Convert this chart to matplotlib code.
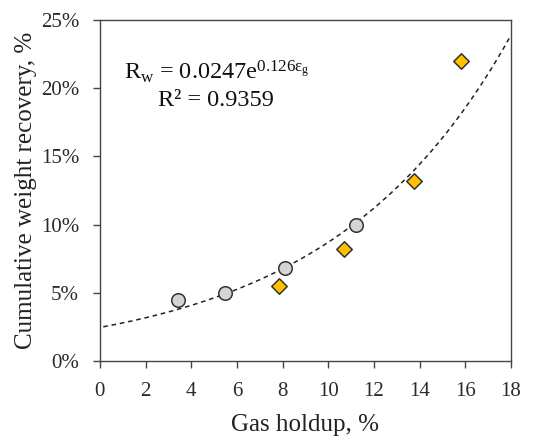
import numpy as np
import matplotlib
matplotlib.use("Agg")
import matplotlib.pyplot as plt
from matplotlib.ticker import FuncFormatter

# data
circle_x = [3.4, 5.5, 8.1, 11.2]
circle_y = [4.5, 5.0, 6.8, 10.0]
diamond_x = [7.85, 10.7, 13.75, 15.8]
diamond_y = [5.5, 8.2, 13.2, 22.0]
fit_a = 0.0247
fit_b = 0.126
x_ticks = [0, 2, 4, 6, 8, 10, 12, 14, 16, 18]
y_ticks = [0, 5, 10, 15, 20, 25]

plt.rcParams['font.family'] = ['Liberation Serif', 'DejaVu Serif']
plt.rcParams['mathtext.fontset'] = 'custom'
plt.rcParams['mathtext.rm'] = 'Liberation Serif'
plt.rcParams['mathtext.it'] = 'Liberation Serif'

fig = plt.figure(figsize=(5.4, 4.41), dpi=100)
ax = fig.add_axes([0.185, 0.181, 0.761, 0.774])

# trend line
xs = np.linspace(0.15, 18, 200)
ax.plot(xs, fit_a * np.exp(fit_b * xs) * 100, ls=(0, (3, 2.5)), color='#222222', lw=1.1, zorder=2)

ax.scatter(circle_x, circle_y, s=95, marker='o', facecolor='#d4d4d4',
           edgecolor='#333333', linewidth=1.1, zorder=3)
ax.scatter(diamond_x, diamond_y, s=62, marker='D', facecolor='#ffc000',
           edgecolor='#333333', linewidth=1.1, zorder=3)

ax.set_xlim(0, 18)
ax.set_ylim(0, 25)
ax.set_xticks(x_ticks)
ax.set_yticks(y_ticks)
ax.yaxis.set_major_formatter(FuncFormatter(lambda v, p: f"{v:.0f}%"))

for s in ax.spines.values():
    s.set_color('#444444')
    s.set_linewidth(1.0)
ax.tick_params(direction='out', length=5, width=1.0, color='#444444',
               labelsize=15, labelcolor='#2a2a2a')
ax.tick_params(axis='x', pad=10)
ax.tick_params(axis='y', pad=10)

ax.set_xlabel('Gas holdup, %', fontsize=18, color='#222222', labelpad=9)
ax.set_ylabel('Cumulative weight recovery, %', fontsize=18, color='#222222', labelpad=3)

ax.text(5.1, 21.2, r'R$_\mathregular{w}$ = 0.0247e$^{\mathregular{0.126}\varepsilon_\mathregular{g}}$',
        fontsize=17.5, ha='center', va='center', color='#111111')
ax.text(5.1, 19.1, 'R² = 0.9359', fontsize=17.5, ha='center', va='center', color='#111111')

fig.savefig('out.png', dpi=100)
